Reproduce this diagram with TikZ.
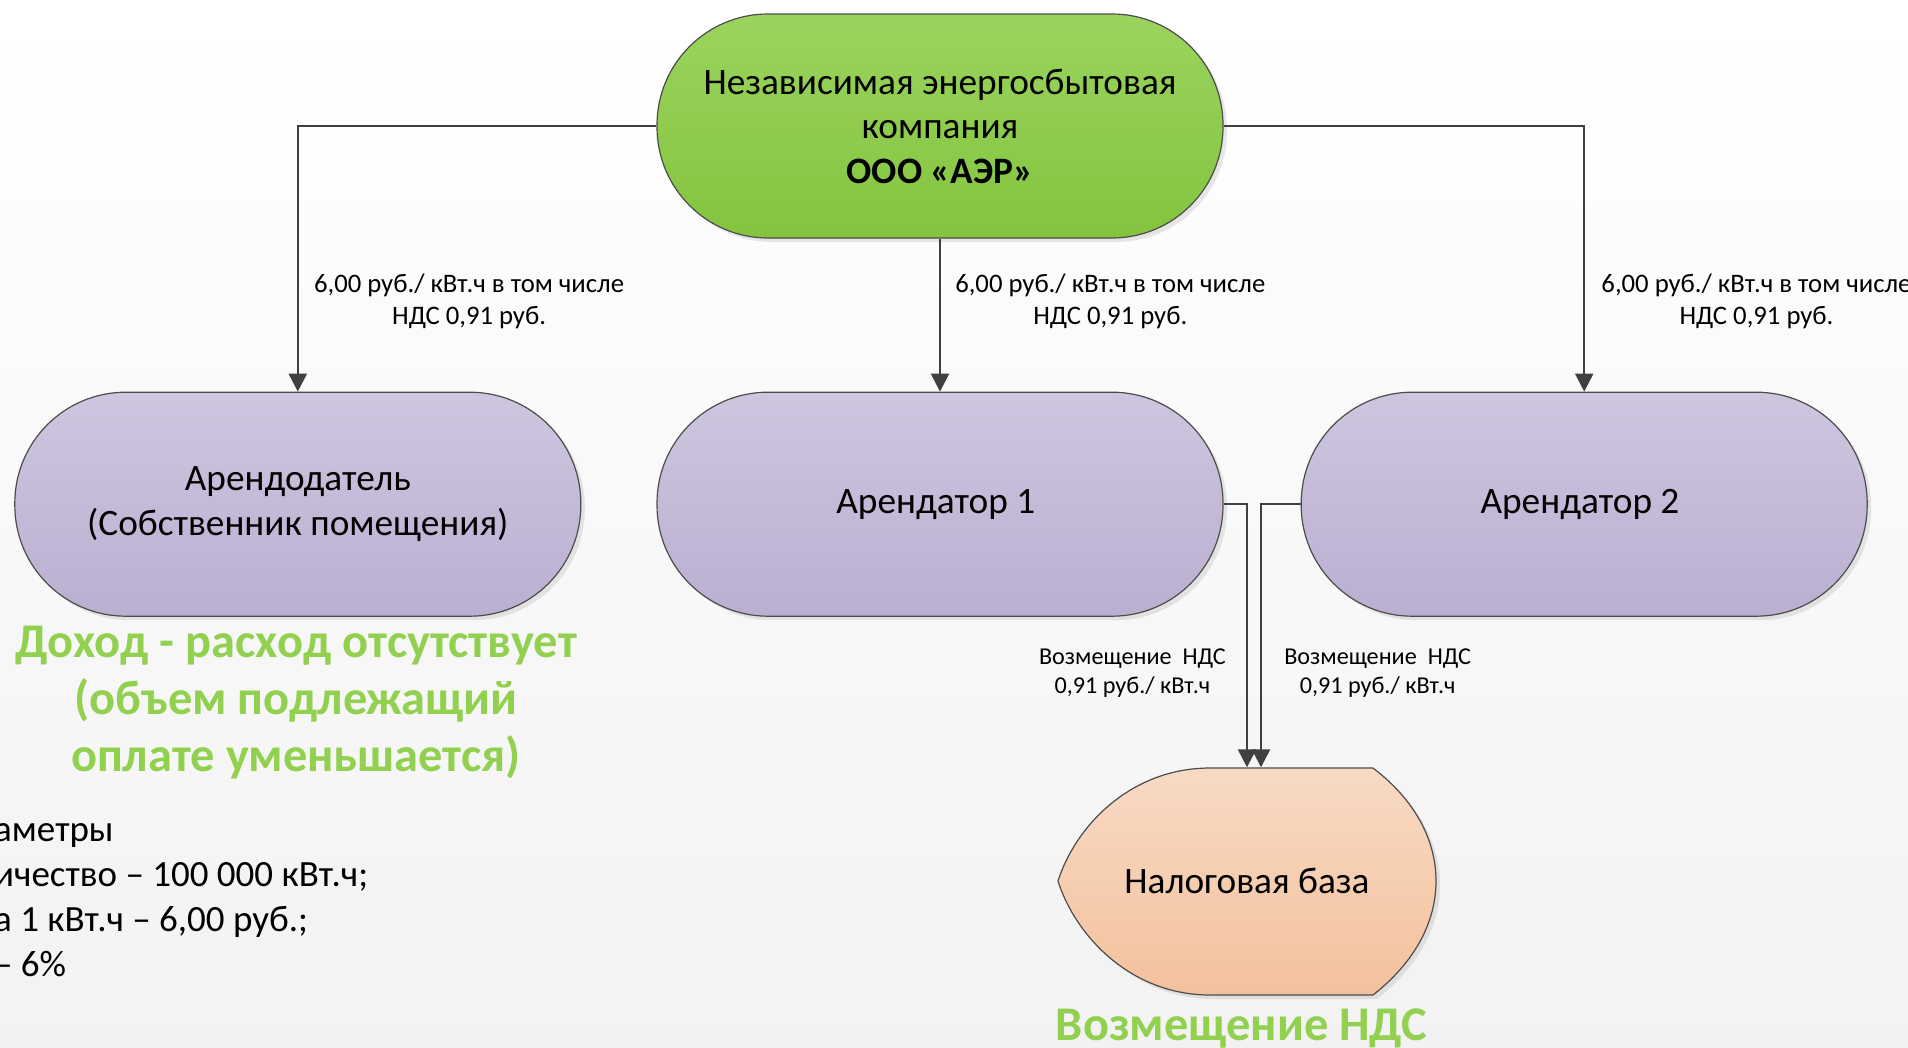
\documentclass[tikz,border=0pt]{standalone}
\usepackage{fontspec}
\setmainfont{Carlito}
\usetikzlibrary{arrows.meta, shadows, positioning}
\definecolor{greentop}{HTML}{9AD45E}
\definecolor{greenbot}{HTML}{84C43E}
\definecolor{lilactop}{HTML}{CEC6DF}
\definecolor{lilacbot}{HTML}{BBAFD1}
\definecolor{peachtop}{HTML}{F8DAC4}
\definecolor{peachbot}{HTML}{F3C19C}
\definecolor{linegray}{HTML}{404040}
\definecolor{textgreen}{HTML}{92D050}

\begin{document}
\begin{tikzpicture}[
            x=1pt, y=-1pt,
            >={Triangle[width=18pt,length=18pt]},
                base/.style = {rectangle, rounded corners=111pt, draw=black!70,
                            line width=1.2pt, minimum width=566pt, minimum height=224pt,
                            text centered, align=center, inner sep=0pt,
                            font=\fontsize{37.3}{44.5}\selectfont,
                            drop shadow={shadow xshift=4pt, shadow yshift=-4pt, opacity=0.18}},
                company/.style = {base, top color=greentop, bottom color=greenbot},
                tenant/.style = {base, top color=lilactop, bottom color=lilacbot},
                taxbox/.style = {minimum width=378pt, minimum height=227pt, inner sep=0pt,
                            font=\fontsize{37.3}{44.5}\selectfont},
                taxshape/.style = {draw=black!70, line width=1.2pt,
                            top color=peachtop, bottom color=peachbot,
                            drop shadow={shadow xshift=4pt, shadow yshift=-4pt, opacity=0.18}},
                flow/.style = {->, draw=linegray, line width=2.5pt},
                pricelbl/.style = {font=\fontsize{26.7}{32}\selectfont, align=center, inner sep=0pt},
                vatlbl/.style = {font=\fontsize{24.2}{29}\selectfont, align=center, inner sep=0pt},
                greenbig/.style = {font=\fontsize{48.4}{57}\selectfont\bfseries, text=textgreen,
                            align=center, inner sep=0pt},
                paramtxt/.style = {font=\fontsize{37}{45}\selectfont, align=left, inner sep=0pt}]
            % page
            \shade[top color=white, bottom color=black!5] (0,0) rectangle (1908,1047);
            \useasboundingbox (0,0) rectangle (1908,1047);
            % nodes
            \node (aer) [company] at (940,126) {
                Независимая энергосбытовая\\
                компания\\
                \textbf{ООО «АЭР»}
            };
            \node (ar1) [tenant, below=153pt of aer] {
                Арендатор 1
            };
            \node (owner) [tenant, left=75pt of ar1] {
                Арендодатель\\
                (Собственник помещения)
            };
            \node (ar2) [tenant, right=77pt of ar1] {
                Арендатор 2
            };
            \coordinate (taxc) at (1247,881);
            \begin{scope}[shift={(taxc)}]
                \path[taxshape] (-37,-113) -- (126,-113)
                    .. controls (168,-81) and (189,-41) .. (189,0)
                    .. controls (189,41) and (168,81) .. (126,114)
                    -- (-37,114)
                    .. controls (-117,114) and (-172,54) .. (-189,0)
                    .. controls (-172,-54) and (-117,-113) .. (-37,-113) -- cycle;
            \end{scope}
            \node (tax) [taxbox] at (taxc) {
                Налоговая база
            };
            \node (income) [greenbig] at (296,703) {
                Доход - расход отсутствует\\
                (объем подлежащий\\
                оплате уменьшается)
            };
            \node (refund) [greenbig, anchor=base] at (1247,1040) {
                Возмещение НДС
            };
            \node (params) [paramtxt, anchor=west] at (-6,900) {
                аметры\\
                ичество – 100 000 кВт.ч;\\
                а 1 кВт.ч – 6,00 руб.;\\
                – 6\%
            };
            % connectors
            \draw[flow] (aer.west) -| node[pricelbl, pos=0.83, right=15pt] {
                6,00 руб./ кВт.ч в том числе\\
                НДС 0,91 руб.
            } (owner.north);
            \draw[flow] (aer.south) -- node[pricelbl, pos=0.41, right=14pt] {
                6,00 руб./ кВт.ч в том числе\\
                НДС 0,91 руб.
            } (ar1.north);
            \draw[flow] (aer.east) -| node[pricelbl, pos=0.83, right=16pt] {
                6,00 руб./ кВт.ч в том числе\\
                НДС 0,91 руб.
            } (ar2.north);
            \draw[flow] (ar1.east) -| node[vatlbl, pos=0.82, left=20pt] {
                Возмещение~ НДС\\
                0,91 руб./ кВт.ч
            } (tax.north);
            \draw[flow] (ar2.west) -| node[vatlbl, pos=0.82, right=22pt] {
                Возмещение~ НДС\\
                0,91 руб./ кВт.ч
            } ([xshift=14pt]tax.north);
        \end{tikzpicture}
\end{document}
